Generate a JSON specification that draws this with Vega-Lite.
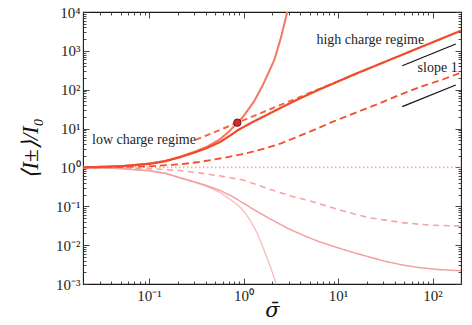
{
  "$schema": "https://vega.github.io/schema/vega-lite/v6.json",
  "width": 378,
  "height": 272,
  "autosize": "none",
  "padding": {"left": 83, "top": 12, "right": 11, "bottom": 41},
  "background": "white",
  "config": {
    "view": {"stroke": "#1a1a1a", "strokeWidth": 1.1},
    "axis": {
      "domain": false,
      "grid": false,
      "tickColor": "#333333",
      "tickWidth": 0.9,
      "tickSize": -6,
      "labelFont": "Liberation Serif",
      "labelFontSize": 15,
      "labelColor": "#1e1e1e",
      "labelOverlap": false,
      "labelFlush": false,
      "labelBound": false,
      "titleFont": "Liberation Serif",
      "titleFontWeight": "normal",
      "titleFontStyle": "italic",
      "titleColor": "#111111"
    }
  },
  "datasets": {
    "curves": [
      {"series": "down_thin", "sigma": 0.02, "value": 1.0},
      {"series": "down_thin", "sigma": 0.05, "value": 0.933},
      {"series": "down_thin", "sigma": 0.1, "value": 0.813},
      {"series": "down_thin", "sigma": 0.15, "value": 0.692},
      {"series": "down_thin", "sigma": 0.21, "value": 0.537},
      {"series": "down_thin", "sigma": 0.3, "value": 0.417},
      {"series": "down_thin", "sigma": 0.4, "value": 0.331},
      {"series": "down_thin", "sigma": 0.56, "value": 0.229},
      {"series": "down_thin", "sigma": 0.75, "value": 0.141},
      {"series": "down_thin", "sigma": 0.9, "value": 0.1},
      {"series": "down_thin", "sigma": 1.05, "value": 0.066},
      {"series": "down_thin", "sigma": 1.2, "value": 0.0398},
      {"series": "down_thin", "sigma": 1.4, "value": 0.02},
      {"series": "down_thin", "sigma": 1.6, "value": 0.0089},
      {"series": "down_thin", "sigma": 1.9, "value": 0.003},
      {"series": "down_thin", "sigma": 2.22, "value": 0.001},
      {"series": "down_thin", "sigma": 2.4, "value": 0.0005},

      {"series": "down_solid", "sigma": 0.02, "value": 1.0},
      {"series": "down_solid", "sigma": 0.05, "value": 0.933},
      {"series": "down_solid", "sigma": 0.1, "value": 0.832},
      {"series": "down_solid", "sigma": 0.15, "value": 0.708},
      {"series": "down_solid", "sigma": 0.21, "value": 0.55},
      {"series": "down_solid", "sigma": 0.3, "value": 0.427},
      {"series": "down_solid", "sigma": 0.4, "value": 0.347},
      {"series": "down_solid", "sigma": 0.56, "value": 0.257},
      {"series": "down_solid", "sigma": 0.75, "value": 0.182},
      {"series": "down_solid", "sigma": 1.0, "value": 0.12},
      {"series": "down_solid", "sigma": 1.4, "value": 0.0724},
      {"series": "down_solid", "sigma": 2.0, "value": 0.0447},
      {"series": "down_solid", "sigma": 3.0, "value": 0.0263},
      {"series": "down_solid", "sigma": 4.5, "value": 0.017},
      {"series": "down_solid", "sigma": 6.3, "value": 0.0123},
      {"series": "down_solid", "sigma": 10, "value": 0.00851},
      {"series": "down_solid", "sigma": 15, "value": 0.00631},
      {"series": "down_solid", "sigma": 21, "value": 0.00501},
      {"series": "down_solid", "sigma": 32, "value": 0.0038},
      {"series": "down_solid", "sigma": 48, "value": 0.00309},
      {"series": "down_solid", "sigma": 73, "value": 0.00263},
      {"series": "down_solid", "sigma": 120, "value": 0.00234},
      {"series": "down_solid", "sigma": 200, "value": 0.00219},

      {"series": "down_dashed", "sigma": 0.02, "value": 1.0},
      {"series": "down_dashed", "sigma": 0.05, "value": 0.977},
      {"series": "down_dashed", "sigma": 0.1, "value": 0.933},
      {"series": "down_dashed", "sigma": 0.21, "value": 0.832},
      {"series": "down_dashed", "sigma": 0.34, "value": 0.724},
      {"series": "down_dashed", "sigma": 0.6, "value": 0.589},
      {"series": "down_dashed", "sigma": 0.97, "value": 0.479},
      {"series": "down_dashed", "sigma": 1.4, "value": 0.355},
      {"series": "down_dashed", "sigma": 2.0, "value": 0.263},
      {"series": "down_dashed", "sigma": 3.0, "value": 0.191},
      {"series": "down_dashed", "sigma": 4.5, "value": 0.148},
      {"series": "down_dashed", "sigma": 6.3, "value": 0.117},
      {"series": "down_dashed", "sigma": 10, "value": 0.083},
      {"series": "down_dashed", "sigma": 15, "value": 0.063},
      {"series": "down_dashed", "sigma": 21, "value": 0.051},
      {"series": "down_dashed", "sigma": 32, "value": 0.044},
      {"series": "down_dashed", "sigma": 48, "value": 0.038},
      {"series": "down_dashed", "sigma": 70, "value": 0.0347},
      {"series": "down_dashed", "sigma": 100, "value": 0.0324},
      {"series": "down_dashed", "sigma": 150, "value": 0.0316},
      {"series": "down_dashed", "sigma": 200, "value": 0.0309},

      {"series": "flat_dotted", "sigma": 0.02, "value": 1.0},
      {"series": "flat_dotted", "sigma": 200, "value": 1.0},

      {"series": "up_dashed", "sigma": 0.02, "value": 1.0},
      {"series": "up_dashed", "sigma": 0.05, "value": 1.02},
      {"series": "up_dashed", "sigma": 0.1, "value": 1.07},
      {"series": "up_dashed", "sigma": 0.21, "value": 1.2},
      {"series": "up_dashed", "sigma": 0.34, "value": 1.38},
      {"series": "up_dashed", "sigma": 0.6, "value": 1.74},
      {"series": "up_dashed", "sigma": 0.97, "value": 2.19},
      {"series": "up_dashed", "sigma": 1.74, "value": 3.16},
      {"series": "up_dashed", "sigma": 2.5, "value": 4.17},
      {"series": "up_dashed", "sigma": 3.9, "value": 6.46},
      {"series": "up_dashed", "sigma": 6.0, "value": 10.0},
      {"series": "up_dashed", "sigma": 8.7, "value": 14.8},
      {"series": "up_dashed", "sigma": 15, "value": 25.1},
      {"series": "up_dashed", "sigma": 25, "value": 40.7},
      {"series": "up_dashed", "sigma": 45, "value": 74.1},
      {"series": "up_dashed", "sigma": 80, "value": 126},
      {"series": "up_dashed", "sigma": 130, "value": 186},
      {"series": "up_dashed", "sigma": 200, "value": 275},

      {"series": "low_asymptote", "sigma": 0.31, "value": 5.1},
      {"series": "low_asymptote", "sigma": 20, "value": 330},

      {"series": "up_thin", "sigma": 0.02, "value": 1.0},
      {"series": "up_thin", "sigma": 0.05, "value": 1.07},
      {"series": "up_thin", "sigma": 0.1, "value": 1.26},
      {"series": "up_thin", "sigma": 0.15, "value": 1.48},
      {"series": "up_thin", "sigma": 0.21, "value": 1.86},
      {"series": "up_thin", "sigma": 0.3, "value": 2.51},
      {"series": "up_thin", "sigma": 0.4, "value": 3.31},
      {"series": "up_thin", "sigma": 0.56, "value": 5.25},
      {"series": "up_thin", "sigma": 0.7, "value": 8.32},
      {"series": "up_thin", "sigma": 0.86, "value": 14.1},
      {"series": "up_thin", "sigma": 1.0, "value": 20.9},
      {"series": "up_thin", "sigma": 1.3, "value": 51.3},
      {"series": "up_thin", "sigma": 1.6, "value": 132},
      {"series": "up_thin", "sigma": 2.12, "value": 589},
      {"series": "up_thin", "sigma": 2.5, "value": 2290},
      {"series": "up_thin", "sigma": 2.9, "value": 10000},
      {"series": "up_thin", "sigma": 3.1, "value": 20000},

      {"series": "up_solid", "sigma": 0.02, "value": 1.0},
      {"series": "up_solid", "sigma": 0.05, "value": 1.07},
      {"series": "up_solid", "sigma": 0.1, "value": 1.23},
      {"series": "up_solid", "sigma": 0.15, "value": 1.45},
      {"series": "up_solid", "sigma": 0.21, "value": 1.82},
      {"series": "up_solid", "sigma": 0.3, "value": 2.4},
      {"series": "up_solid", "sigma": 0.4, "value": 3.09},
      {"series": "up_solid", "sigma": 0.56, "value": 4.47},
      {"series": "up_solid", "sigma": 0.7, "value": 6.31},
      {"series": "up_solid", "sigma": 0.86, "value": 8.91},
      {"series": "up_solid", "sigma": 1.0, "value": 10.96},
      {"series": "up_solid", "sigma": 1.3, "value": 15.5},
      {"series": "up_solid", "sigma": 1.74, "value": 22.1},
      {"series": "up_solid", "sigma": 2.5, "value": 34.7},
      {"series": "up_solid", "sigma": 3.9, "value": 58.9},
      {"series": "up_solid", "sigma": 6.0, "value": 95.5},
      {"series": "up_solid", "sigma": 8.7, "value": 141},
      {"series": "up_solid", "sigma": 15, "value": 251},
      {"series": "up_solid", "sigma": 25, "value": 417},
      {"series": "up_solid", "sigma": 50, "value": 832},
      {"series": "up_solid", "sigma": 100, "value": 1660},
      {"series": "up_solid", "sigma": 200, "value": 3310}
    ],
    "slopes": [
      {"seg": "upper", "sigma": 47.8, "value": 415},
      {"seg": "upper", "sigma": 176, "value": 1500},
      {"seg": "lower", "sigma": 47.8, "value": 36.6},
      {"seg": "lower", "sigma": 176, "value": 132}
    ],
    "crossing": [
      {"sigma": 0.86, "value": 14.2}
    ],
    "notes": [
      {"label": "low charge regime", "sigma": 0.0249, "value": 5.1},
      {"label": "high charge regime", "sigma": 5.9, "value": 1900},
      {"label": "slope 1", "sigma": 69.5, "value": 363}
    ]
  },
  "layer": [
    {
      "data": {"name": "curves"},
      "mark": {"type": "line", "clip": true, "strokeCap": "butt"},
      "encoding": {
        "x": {
          "field": "sigma", "type": "quantitative",
          "scale": {"type": "log", "domain": [0.02, 200], "nice": false},
          "axis": {
            "orient": "bottom",
            "values": [0.02, 0.03, 0.04, 0.05, 0.06, 0.07, 0.08, 0.09, 0.1, 0.2, 0.3, 0.4, 0.5, 0.6, 0.7, 0.8, 0.9, 1, 2, 3, 4, 5, 6, 7, 8, 9, 10, 20, 30, 40, 50, 60, 70, 80, 90, 100, 200],
            "tickDash": {"condition": {"test": "abs(log(datum.value)/LN10 - round(log(datum.value)/LN10)) > 0.01", "value": [3, 20]}, "value": []},
            "labelExpr": "abs(log(datum.value)/LN10 - round(log(datum.value)/LN10)) < 0.01 ? '10' + (datum.value < 0.5 ? '⁻' : '') + substring('⁰¹²³⁴⁵⁶⁷⁸⁹', abs(round(log(datum.value)/LN10)), abs(round(log(datum.value)/LN10)) + 1) : ''",
            "labelPadding": 10,
            "title": "σ̄",
            "titleFont": "DejaVu Serif",
            "titleFontSize": 21,
            "titleBaseline": "middle",
            "titleY": 26
          }
        },
        "y": {
          "field": "value", "type": "quantitative",
          "scale": {"type": "log", "domain": [0.001, 10000], "nice": false},
          "axis": {
            "orient": "left",
            "values": [0.001, 0.002, 0.003, 0.004, 0.005, 0.006, 0.007, 0.008, 0.009, 0.01, 0.02, 0.03, 0.04, 0.05, 0.06, 0.07, 0.08, 0.09, 0.1, 0.2, 0.3, 0.4, 0.5, 0.6, 0.7, 0.8, 0.9, 1, 2, 3, 4, 5, 6, 7, 8, 9, 10, 20, 30, 40, 50, 60, 70, 80, 90, 100, 200, 300, 400, 500, 600, 700, 800, 900, 1000, 2000, 3000, 4000, 5000, 6000, 7000, 8000, 9000, 10000],
            "tickDash": {"condition": {"test": "abs(log(datum.value)/LN10 - round(log(datum.value)/LN10)) > 0.01", "value": [3, 20]}, "value": []},
            "labelExpr": "abs(log(datum.value)/LN10 - round(log(datum.value)/LN10)) < 0.01 ? '10' + (datum.value < 0.5 ? '⁻' : '') + substring('⁰¹²³⁴⁵⁶⁷⁸⁹', abs(round(log(datum.value)/LN10)), abs(round(log(datum.value)/LN10)) + 1) : ''",
            "labelPadding": 9,
            "title": "⟨I±⟩/I₀",
            "titleFontSize": 23,
            "titleAngle": -90,
            "titleBaseline": "middle",
            "titleAlign": "center",
            "titleX": -53,
            "titleY": 136
          }
        },
        "detail": {"field": "series"},
        "color": {
          "field": "series", "type": "nominal", "legend": null,
          "scale": {
            "domain": ["down_thin", "down_solid", "down_dashed", "flat_dotted", "up_dashed", "low_asymptote", "up_thin", "up_solid"],
            "range": ["#f8bcbc", "#f49c9c", "#f5a3a3", "#f6aaa2", "#f0502e", "#f26444", "#f37a64", "#f04a2a"]
          }
        },
        "strokeDash": {
          "field": "series", "type": "nominal", "legend": null,
          "scale": {
            "domain": ["down_thin", "down_solid", "down_dashed", "flat_dotted", "up_dashed", "low_asymptote", "up_thin", "up_solid"],
            "range": [[1, 0], [1, 0], [6, 4.5], [1.5, 2.5], [7, 4], [6, 4], [1, 0], [1, 0]]
          }
        },
        "strokeWidth": {
          "field": "series", "type": "nominal", "legend": null,
          "scale": {
            "domain": ["down_thin", "down_solid", "down_dashed", "flat_dotted", "up_dashed", "low_asymptote", "up_thin", "up_solid"],
            "range": [1.3, 2.2, 2.2, 1.6, 2.6, 1.8, 1.3, 2.5]
          }
        }
      }
    },
    {
      "data": {"name": "slopes"},
      "mark": {"type": "line", "color": "#111111", "strokeWidth": 1.2},
      "encoding": {
        "x": {
          "field": "sigma", "type": "quantitative",
          "axis": {
            "orient": "top",
            "values": [0.02, 0.03, 0.04, 0.05, 0.06, 0.07, 0.08, 0.09, 0.1, 0.2, 0.3, 0.4, 0.5, 0.6, 0.7, 0.8, 0.9, 1, 2, 3, 4, 5, 6, 7, 8, 9, 10, 20, 30, 40, 50, 60, 70, 80, 90, 100, 200],
            "tickDash": {"condition": {"test": "abs(log(datum.value)/LN10 - round(log(datum.value)/LN10)) > 0.01", "value": [3, 20]}, "value": []},
            "labels": false,
            "title": null
          }
        },
        "y": {
          "field": "value", "type": "quantitative",
          "axis": {
            "orient": "right",
            "values": [0.001, 0.002, 0.003, 0.004, 0.005, 0.006, 0.007, 0.008, 0.009, 0.01, 0.02, 0.03, 0.04, 0.05, 0.06, 0.07, 0.08, 0.09, 0.1, 0.2, 0.3, 0.4, 0.5, 0.6, 0.7, 0.8, 0.9, 1, 2, 3, 4, 5, 6, 7, 8, 9, 10, 20, 30, 40, 50, 60, 70, 80, 90, 100, 200, 300, 400, 500, 600, 700, 800, 900, 1000, 2000, 3000, 4000, 5000, 6000, 7000, 8000, 9000, 10000],
            "tickDash": {"condition": {"test": "abs(log(datum.value)/LN10 - round(log(datum.value)/LN10)) > 0.01", "value": [3, 20]}, "value": []},
            "labels": false,
            "title": null
          }
        },
        "detail": {"field": "seg"}
      }
    },
    {
      "data": {"name": "crossing"},
      "mark": {"type": "point", "filled": true, "shape": "circle", "size": 55, "fill": "#d42a28", "stroke": "#5a1414", "strokeWidth": 0.9, "opacity": 1},
      "encoding": {
        "x": {"field": "sigma", "type": "quantitative", "axis": null},
        "y": {"field": "value", "type": "quantitative", "axis": null}
      }
    },
    {
      "data": {"name": "notes"},
      "mark": {"type": "text", "align": "left", "baseline": "middle", "font": "Liberation Serif", "fontSize": 14, "color": "#1e1e1e"},
      "encoding": {
        "x": {"field": "sigma", "type": "quantitative", "axis": null},
        "y": {"field": "value", "type": "quantitative", "axis": null},
        "text": {"field": "label"}
      }
    }
  ],
  "resolve": {"axis": {"x": "independent", "y": "independent"}}
}
